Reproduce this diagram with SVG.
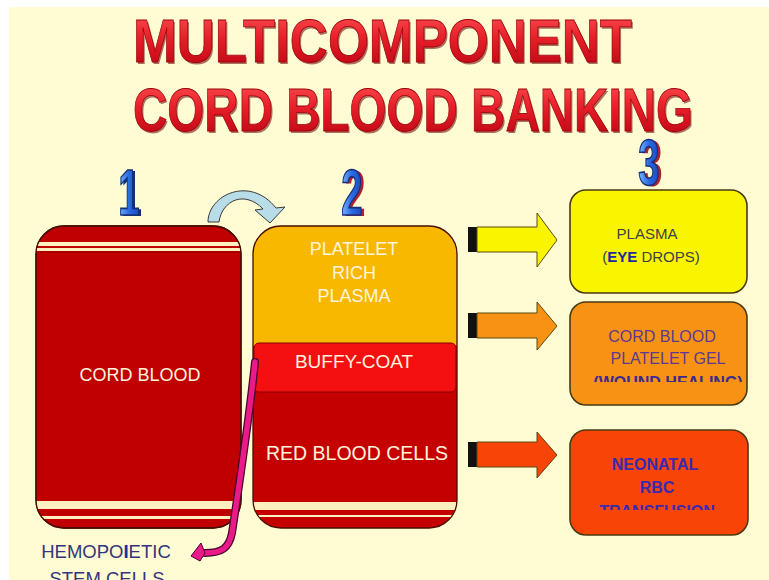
<svg xmlns="http://www.w3.org/2000/svg" width="769" height="580" viewBox="0 0 769 580">
  <defs>
    <style>
      .title { font-family: "Liberation Sans", Arial, sans-serif; font-weight: bold; font-size: 62px; text-anchor: middle; }
      .title-face { fill: url(#titleGrad); stroke: #9a0008; stroke-width: 0.8; }
      .title-shadow { fill: #6a0000; opacity: 0.55; }
      .num { font-family: "Liberation Sans", Arial, sans-serif; font-weight: bold; font-size: 64px; text-anchor: middle; }
      .num-face { fill: url(#numGrad); stroke: #14307a; stroke-width: 1.6; }
      .lbl { font-family: "Liberation Sans", Arial, sans-serif; text-anchor: middle; }
      .light { fill: #fff3dc; }
      .bag { stroke: #4a0c00; stroke-width: 1.3; }
      .cream { fill: #fdf0c0; }
      .stub { fill: #111111; }
      .arrow-out { stroke: #5a4a10; stroke-width: 1; }
      .res { stroke: #4a3a10; stroke-width: 1.6; }
    </style>
    <linearGradient id="titleGrad" x1="0" y1="0" x2="0" y2="1">
      <stop offset="0" stop-color="#ff5a5a"/>
      <stop offset="0.45" stop-color="#e8202a"/>
      <stop offset="1" stop-color="#b80010"/>
    </linearGradient>
    <linearGradient id="numGrad" x1="0" y1="0" x2="1" y2="0">
      <stop offset="0" stop-color="#7ab8ff"/>
      <stop offset="0.5" stop-color="#2a6ae0"/>
      <stop offset="1" stop-color="#1a48b8"/>
    </linearGradient>
    <clipPath id="clipBag1"><rect x="36" y="226" width="205" height="302" rx="28"/></clipPath>
    <clipPath id="clipBag2"><rect x="253" y="226" width="204" height="302" rx="28"/></clipPath>
    <clipPath id="clipGel"><rect x="570" y="302" width="177" height="80"/></clipPath>
    <clipPath id="clipRbc"><rect x="570" y="430" width="178" height="80"/></clipPath>
  </defs>

  <!-- page -->
  <rect width="769" height="580" fill="#ffffff"/>
  <rect x="9" y="7" width="760" height="573" fill="#fffcd3"/>

  <!-- heading -->
  <g id="title">
    <text class="title title-shadow" x="384" y="64" textLength="499" lengthAdjust="spacingAndGlyphs">MULTICOMPONENT</text>
    <text class="title title-face" x="382.5" y="62" textLength="499" lengthAdjust="spacingAndGlyphs">MULTICOMPONENT</text>
    <text class="title title-shadow" x="414.5" y="133" textLength="560" lengthAdjust="spacingAndGlyphs">CORD BLOOD BANKING</text>
    <text class="title title-face" x="413" y="131" textLength="560" lengthAdjust="spacingAndGlyphs">CORD BLOOD BANKING</text>
  </g>

  <!-- step numbers -->
  <g id="step1" transform="translate(129,215) scale(0.6,1)">
    <text class="num" x="4" y="1" fill="#16306e">1</text>
    <text class="num num-face" x="0" y="0">1</text>
  </g>
  <g id="step2" transform="translate(352,215) scale(0.6,1)">
    <text class="num" x="5" y="1" fill="#b02030">2</text>
    <text class="num num-face" x="0" y="0">2</text>
  </g>
  <g id="step3" transform="translate(649,185) scale(0.6,1)">
    <text class="num" x="5" y="1" fill="#b02030">3</text>
    <text class="num num-face" x="0" y="0">3</text>
  </g>

  <!-- bag 1: whole cord blood -->
  <g id="bag1">
    <rect class="bag" x="36" y="226" width="205" height="302" rx="28" fill="#c00000"/>
    <g clip-path="url(#clipBag1)">
      <rect class="cream" x="36" y="242" width="205" height="4"/>
      <rect class="cream" x="36" y="248" width="205" height="3"/>
      <rect fill="#a80000" x="36" y="251" width="205" height="2"/>
      <rect class="cream" x="36" y="501" width="205" height="8"/>
      <rect class="cream" x="36" y="516" width="205" height="3"/>
    </g>
    <rect x="36" y="226" width="205" height="302" rx="28" fill="none" stroke="#4a0c00" stroke-width="1.3"/>
    <text class="lbl light" x="140" y="381" font-size="18">CORD BLOOD</text>
  </g>

  <!-- bag 2: separated components -->
  <g id="bag2">
    <rect x="253" y="226" width="204" height="302" rx="28" fill="#c40000"/>
    <g clip-path="url(#clipBag2)">
      <rect x="253" y="226" width="204" height="120" fill="#f8b800"/>
      <rect class="cream" x="253" y="502" width="204" height="8"/>
      <rect class="cream" x="253" y="515" width="204" height="2"/>
    </g>
    <rect x="253" y="226" width="204" height="302" rx="28" fill="none" stroke="#4a0c00" stroke-width="1.3"/>
    <text class="lbl light" x="354" y="255" font-size="18">PLATELET</text>
    <text class="lbl light" x="354" y="279" font-size="18">RICH</text>
    <text class="lbl light" x="354" y="302" font-size="18">PLASMA</text>
  </g>

  <g id="buffy-coat">
    <rect x="254" y="343" width="202" height="49" rx="5" fill="#f41010" stroke="#8a0000" stroke-width="1"/>
    <text class="lbl light" x="354" y="368" font-size="19">BUFFY-COAT</text>
  </g>

  <g id="red-cells">
    <text class="lbl light" x="357" y="460" font-size="19.5">RED BLOOD CELLS</text>
  </g>

  <!-- products -->
  <g id="plasma">
    <rect class="res" x="570" y="190" width="177" height="103" rx="16" fill="#f9f500"/>
    <text class="lbl" x="647" y="239" font-size="15" fill="#404048">PLASMA</text>
    <text class="lbl" x="651" y="262" font-size="15" fill="#404048">(<tspan font-weight="bold" fill="#1e2a9a">EYE</tspan> DROPS)</text>
  </g>

  <g id="platelet-gel">
    <rect class="res" x="570" y="302" width="177" height="103" rx="16" fill="#f79214"/>
    <text class="lbl" x="662" y="342" font-size="16" fill="#5a3a90">CORD BLOOD</text>
    <text class="lbl" x="668" y="364" font-size="16" fill="#5a3a90">PLATELET GEL</text>
    <g clip-path="url(#clipGel)">
      <text class="lbl" x="668" y="388" font-size="16" font-weight="bold" fill="#3a2a90">(WOUND HEALING)</text>
    </g>
  </g>

  <g id="neonatal-rbc">
    <rect class="res" x="570" y="430" width="178" height="105" rx="16" fill="#f84406"/>
    <text class="lbl" x="655" y="470" font-size="16" font-weight="bold" fill="#3a2ab0">NEONATAL</text>
    <text class="lbl" x="657" y="493" font-size="16" font-weight="bold" fill="#3a2ab0">RBC</text>
    <g clip-path="url(#clipRbc)">
      <text class="lbl" x="657" y="517" font-size="16" font-weight="bold" fill="#3a2ab0">TRANSFUSION</text>
    </g>
  </g>

  <g id="stem-cells">
    <text class="lbl" x="106" y="558" font-size="18.5" fill="#34347a">HEMOPO<tspan font-weight="bold" fill="#1a2aa8">I</tspan>ETIC</text>
    <text class="lbl" x="107" y="585" font-size="18.5" fill="#34347a">STEM CELLS</text>
  </g>

  <!-- connectors -->
  <g id="connectors">
    <!-- transfer from bag 1 to bag 2 -->
    <path d="M208,222 C208,195 250,175 276,208 L285,207 L270,223 L255,210 L263,209 C245,190 222,200 219,222 Z"
          fill="#b8dce8" stroke="#3a3a3a" stroke-width="1"/>

    <!-- stem cell collection from the buffy coat -->
    <path d="M255,362 C249,420 240,480 232,533 C229,548 222,553 205,553" fill="none" stroke="#4a0030" stroke-width="8" stroke-linecap="round"/>
    <path d="M255,362 C249,420 240,480 232,533 C229,548 222,553 205,553" fill="none" stroke="#ea1a88" stroke-width="5.5" stroke-linecap="round"/>
    <polygon points="191,556 201,543 205,553 200,561" fill="#ea1a88" stroke="#4a0030" stroke-width="1"/>

    <!-- component outputs -->
    <g id="to-plasma">
      <rect class="stub" x="468" y="227" width="9" height="25"/>
      <path class="arrow-out" d="M477,227 L537,227 L537,213 L557,240 L537,267 L537,252 L477,252 Z" fill="#f9f500"/>
    </g>
    <g id="to-gel">
      <rect class="stub" x="468" y="313" width="9" height="25"/>
      <path class="arrow-out" d="M477,313 L537,313 L537,302 L557,326 L537,350 L537,338 L477,338 Z" fill="#f79214"/>
    </g>
    <g id="to-rbc">
      <rect class="stub" x="468" y="442" width="9" height="25"/>
      <path class="arrow-out" d="M477,442 L537,442 L537,432 L557,455 L537,478 L537,467 L477,467 Z" fill="#f84406"/>
    </g>
  </g>
</svg>
